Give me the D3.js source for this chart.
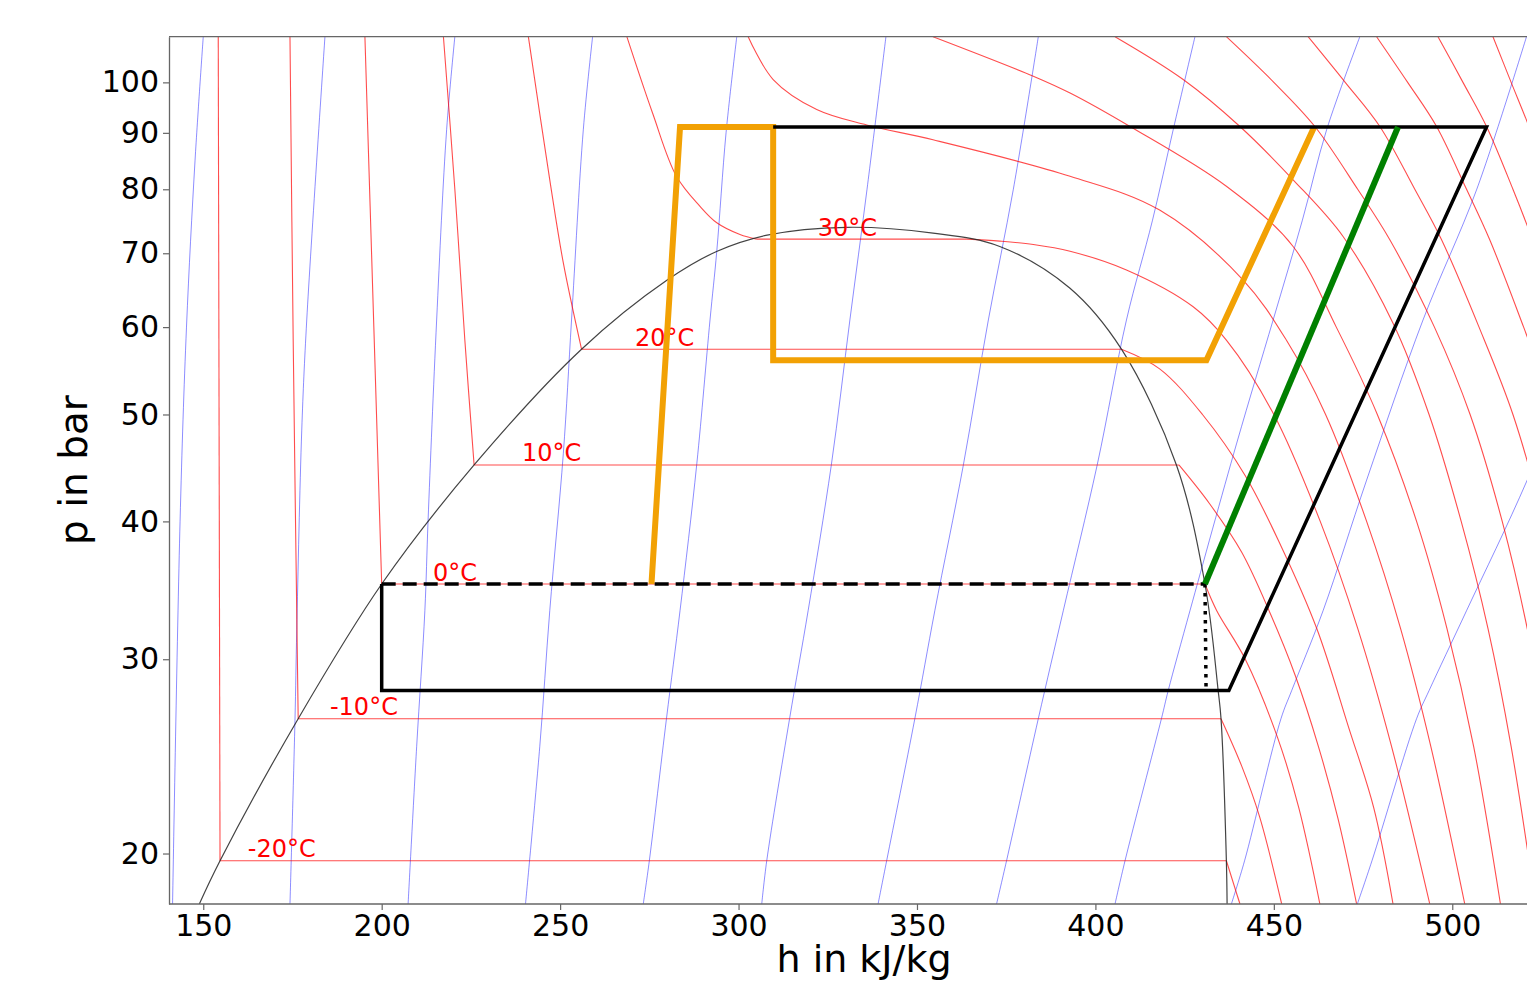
<!DOCTYPE html>
<html>
<head>
<meta charset="utf-8">
<script src="https://cdn.jsdelivr.net/npm/d3@7"></script>
<style>
  html, body { margin: 0; padding: 0; background: #fff; }
  svg { display: block; font-family: "DejaVu Sans", sans-serif; }
</style>
</head>
<body>
<svg id="chart" width="1527" height="982"></svg>
<script>
// ---------------- DATA (h in kJ/kg, p in bar) ----------------
const xTicks = [150, 200, 250, 300, 350, 400, 450, 500];
const yTicks = [20, 30, 40, 50, 60, 70, 80, 90, 100];

// saturation dome
const dome = [[148.9,18],[154.7,19.7],[176.6,26.5],[200,35.1],[225.9,45.0],[256,57.3],[280,66.2],
  [294,70.3],[308,72.7],[330.3,73.9],[354.5,73.0],[373.2,71.0],[392.8,65.1],[407.3,57.3],
  [422.7,45.0],[430.7,35.1],[434.4,28.1],[435.2,26.5],[436.7,19.7],[436.9,18]];

// subcritical isotherms
const satTemps = [-20, -10, 0, 10, 20, 30];
const satP     = [19.7, 26.5, 35.1, 45.0, 57.3, 72.1];
const satHl    = [154.7, 176.6, 200.0, 225.9, 256.0, 305.1];
const satHv    = [436.7, 435.2, 430.7, 423.4, 407.3, 364.0];
const labelH   = [162.5, 185.5, 214.4, 239.3, 271.0, 322.2];

const liqM20 = [[154.2,110],[154.7,19.7]];
const liqM10 = [[174.3,110],[175.2,58.4],[176.6,26.5]];
const liq0   = [[195.3,110],[197.8,60],[200,35.1]];
const liq10  = [[217.3,110],[220.5,80],[223.3,58.4],[225.9,45]];
const liq20  = [[241.1,110],[247.1,81.6],[250.9,68.6],[256,57.3]];
const liq30  = [[268.7,110],[275.9,93.8],[282.6,82.2],[289.2,77.2],[293.9,74.6],[300.4,72.8],[305.1,72.1]];

const vapM20 = [[436.7,19.7],[440.5,18]];
const vapM10 = [[435.2,26.5],[441,24],[446,21.6],[452.2,18]];
const vap0   = [[430.7,35.1],[434,33.2],[442,30],[451,25.5],[457,22],[462.9,18]];
const vap10  = [[423.4,45],[432,41.5],[441,37.5],[449,33],[456,29],[462.5,25],[468,21.5],[473.2,18]];
const vap20  = [[407.3,57.3],[418,55],[430,50],[442,44],[452,38],[462,32],[471,26],[478,22],[483.4,18]];
const vap30  = [[364,72.1],[373.2,71.8],[382.6,71.3],[392.9,70.3],[408.7,67.6],[427.4,62.6],[436.7,58.4],
  [450,50],[463,40],[473.5,32],[483,25],[493.7,18]];

// supercritical isotherms (40 ... 120 °C)
const iso40  = [[302.7,110],[309.7,100.6],[321.9,94.5],[335.9,91.5],[354.5,88.7],[392.9,82.2],[418,76.6],
  [441.4,66.2],[453.5,58.4],[464.5,50],[476,40],[485.5,32],[494,25],[503.5,18]];
const iso50  = [[354.5,110],[382.6,101.3],[392.9,97.8],[409.7,91.2],[436.7,80.5],[455.4,71.0],[467.5,60],
  [479,50],[490,40],[498.5,32],[506,25],[513.5,18]];
const iso60  = [[405.5,110],[424.6,100.6],[440.5,91.2],[455.4,81.6],[469.4,72.5],[483.4,60.5],[493.5,50],
  [502.5,40],[510,32],[516.5,25],[523.3,18]];
const iso70  = [[436.7,110],[450,100],[461.5,91.2],[473.5,80],[482.5,72],[495,60],[505,50],[514,40],
  [521,32],[527,25],[533,18]];
const iso80  = [[459.6,110],[470,100],[479.7,91.2],[489.5,80],[497,72],[507.5,60],[517,50],[525.5,40],[532,32]];
const iso90  = [[478.8,110],[487.5,100],[495.6,91.2],[504,80],[510.5,72],[520,60],[529,50]];
const iso100 = [[496,110],[503,100],[509.6,91.2],[517,80],[522.5,72],[531,60]];
const iso110 = [[511.4,110],[516.5,100],[521.5,91.2],[528,80]];
const iso120 = [[525,110],[529.5,100]];

// isentropes
const s1  = [[141.4,18],[143.5,40],[145.3,60],[147.7,85],[150,110]];
const s2  = [[174.3,18],[175.7,26.4],[176.2,31.9],[177.6,48.4],[179.0,60.9],[184.1,110]];
const s3  = [[207.4,18],[209.8,25],[212.1,33.2],[213,40.1],[215.4,60.9],[218.2,90.6],[220.5,110]];
const s4  = [[240.3,18],[244.3,25],[247.1,33.2],[250.9,46.1],[253.2,60.9],[256.5,90.6],[259.1,110]];
const s5  = [[273.3,18],[275,19.7],[279.8,26.5],[283.6,33.2],[288.3,45.1],[292,60.9],[293.9,70.3],[296.5,90],[299.5,110]];
const s6  = [[306.5,18],[307.9,19.7],[314.3,26.5],[319.5,33.2],[326,45],[331.2,60.9],[336,80],[341.3,110]];
const s7  = [[339.1,18],[341.5,19.7],[349.4,26.5],[355,33.2],[363,45],[370,60.9],[377,80],[384,110]];
const s8  = [[372.3,18],[375.1,19.7],[384,26.5],[391,33.2],[400.5,45],[408.7,60.9],[416,75],[421.8,90.6],[427.9,110]];
const s9  = [[405.5,18],[408.3,19.7],[418.5,26.5],[420.4,28.1],[426.5,33.2],[439.6,47.1],[449.8,60.9],[458,75],[464.8,90.6],[474.1,110]];
const s10 = [[438.1,18],[441.8,19.7],[452,26.5],[455,28.1],[463.8,33.2],[476,43.6],[491.8,60.9],[506.8,79.9],[520.8,110]];
const s11 = [[473.4,18],[477.5,19.7],[490,26.5],[493.5,28.1],[504,33.2],[521,43.6],[539,60.9]];

// cycle lines
const cycleBlack  = [[309.7,91.1],[509.6,91.1],[437.4,28.1],[200,28.1],[200,35.1]];
const cycleDashed = [[200,35.1],[430.7,35.1]];
const cycleDotted = [[430.7,35.1],[431,28.3]];
const cycleGreen  = [[430.7,35.1],[484.8,91.1]];
const cycleOrange = [[275.6,35.1],[283.6,91.1],[309.7,91.1],[309.7,56],[431.1,56],[461.3,91.1]];

// ---------------- LAYOUT ----------------
const svg = d3.select("#chart");
const plotLeft = 169, plotTop = 36.7, plotBottom = 904, svgRight = 1527;
const pxPerKJ = 3.5686;
const hMin = 140.4, hMax = 540;
const x = d3.scaleLinear().domain([hMin, hMax]).range([plotLeft, plotLeft + (hMax - hMin) * pxPerKJ]);
const y = d3.scaleLog().domain([18, 110]).range([plotBottom, plotTop]);

svg.append("defs").append("clipPath").attr("id", "plotClip")
  .append("rect").attr("x", plotLeft).attr("y", plotTop)
  .attr("width", x(hMax) - plotLeft).attr("height", plotBottom - plotTop);

const g = svg.append("g").attr("clip-path", "url(#plotClip)");

const smooth = d3.line().x(d => x(d[0])).y(d => y(d[1])).curve(d3.curveCatmullRom.alpha(0.5));
const straight = d3.line().x(d => x(d[0])).y(d => y(d[1]));

// isentropes
[s1, s2, s3, s4, s5, s6, s7, s8, s9, s10, s11].forEach(s => {
  g.append("path").attr("d", smooth(s)).attr("fill", "none")
    .attr("stroke", "#0000ff").attr("stroke-opacity", 0.5).attr("stroke-width", 0.9);
});

// isotherms
const redStyle = sel => sel.attr("fill", "none").attr("stroke", "#ff0000")
  .attr("stroke-opacity", 0.7).attr("stroke-width", 1.1);
[liqM20, liqM10, liq0, liq10, liq20, liq30, vapM20, vapM10, vap0, vap10, vap20, vap30,
 iso40, iso50, iso60, iso70, iso80, iso90, iso100, iso110, iso120].forEach(c => {
  g.append("path").attr("d", smooth(c)).call(redStyle);
});
satTemps.forEach((t, i) => {
  g.append("path").attr("d", straight([[satHl[i], satP[i]], [satHv[i], satP[i]]])).call(redStyle);
});

// dome
g.append("path").attr("d", smooth(dome)).attr("fill", "none")
  .attr("stroke", "#222").attr("stroke-opacity", 0.85).attr("stroke-width", 1.2);

// isotherm labels
satTemps.forEach((t, i) => {
  g.append("text").attr("x", x(labelH[i])).attr("y", y(satP[i]) - 3.5)
    .attr("fill", "#ff0000").attr("font-size", 24).text(t + "°C");
});

// cycle
g.append("path").attr("d", straight(cycleOrange)).attr("fill", "none")
  .attr("stroke", "#f2a104").attr("stroke-width", 6).attr("stroke-linejoin", "miter");
g.append("path").attr("d", straight(cycleBlack)).attr("fill", "none")
  .attr("stroke", "#000").attr("stroke-width", 3.5).attr("stroke-linejoin", "miter");
g.append("path").attr("d", straight(cycleDashed)).attr("fill", "none")
  .attr("stroke", "#000").attr("stroke-width", 3.5).attr("stroke-dasharray", "14,7");
g.append("path").attr("d", straight(cycleDotted)).attr("fill", "none")
  .attr("stroke", "#000").attr("stroke-width", 3.5).attr("stroke-dasharray", "3.5,5.5");
g.append("path").attr("d", straight(cycleGreen)).attr("fill", "none")
  .attr("stroke", "#008000").attr("stroke-width", 6);

// axes
const spine = "#666";
svg.append("line").attr("x1", plotLeft).attr("x2", svgRight).attr("y1", plotTop).attr("y2", plotTop)
  .attr("stroke", spine).attr("stroke-width", 1.3);

const xAxis = svg.append("g").attr("transform", `translate(0,${plotBottom})`)
  .call(d3.axisBottom(x).tickValues(xTicks).tickSize(6).tickPadding(5).tickSizeOuter(0));
const yAxis = svg.append("g").attr("transform", `translate(${plotLeft},0)`)
  .call(d3.axisLeft(y).tickValues(yTicks).tickFormat(d3.format("d")).tickSize(6).tickPadding(4).tickSizeOuter(0));
[xAxis, yAxis].forEach(a => {
  a.select(".domain").attr("stroke", spine).attr("stroke-width", 1.3);
  a.selectAll(".tick line").attr("stroke", spine).attr("stroke-width", 1.2);
  a.selectAll(".tick text").attr("font-size", 30).attr("fill", "#000")
    .attr("font-family", "DejaVu Sans, sans-serif");
});
xAxis.select(".domain").attr("d", `M${plotLeft},0H${svgRight}`);

svg.append("text").attr("transform", "translate(87,470) rotate(-90)")
  .attr("text-anchor", "middle").attr("font-size", 39).attr("fill", "#000").text("p in bar");
svg.append("text").attr("x", 864).attr("y", 972)
  .attr("text-anchor", "middle").attr("font-size", 38).attr("fill", "#000").text("h in kJ/kg");
</script>
</body>
</html>
